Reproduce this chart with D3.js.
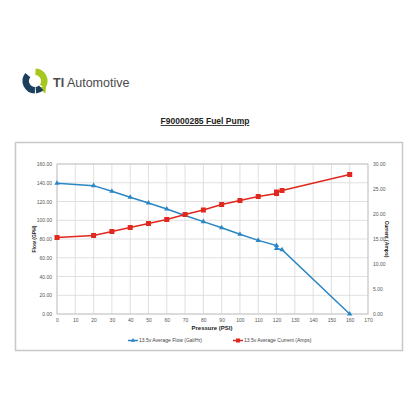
<!DOCTYPE html>
<html><head><meta charset="utf-8">
<script src="https://cdn.jsdelivr.net/npm/d3@7"></script>
<style>body{margin:0;background:#fff}svg{display:block}</style>
</head><body>
<svg id="c" width="416" height="416"></svg>
<script>
const pressure = [0,20,30,40,50,60,70,80,90,100,110,120,120,123,160];
const flow     = [139.4,136.9,130.9,124.5,118.4,112,105,98.5,92,85,78.5,73,70,68.5,0];
const current  = [15.3,15.7,16.5,17.3,18.1,18.9,19.9,20.8,21.9,22.7,23.5,24.1,24.4,24.7,27.9];
const xTicks = d3.range(0,171,10);
const yTicks = d3.range(0,161,20);
const y2Ticks = d3.range(0,31,5);
const seriesNames = ["13.5v Average Flow (Gal/Hr)","13.5v Average Current (Amps)"];
const colors = ["#2a86c4","#e0281e"];

const svg = d3.select("#c");
const F = "Liberation Sans, Arial, sans-serif";

// logo
const g = svg.append("g").attr("transform","translate(35,81)");
const arc = d3.arc();
g.append("path").attr("d", arc({innerRadius:6,outerRadius:12.5,startAngle:0.05,endAngle:2.2})).attr("fill","#a6c71e");
g.append("path").attr("d","M12,-3 L16,3 L6,3 Z").attr("fill","#a6c71e").attr("transform","rotate(40)");
g.append("path").attr("d", arc({innerRadius:6,outerRadius:12.5,startAngle:3.15,endAngle:5.4})).attr("fill","#1d3f5e");
g.append("path").attr("d", arc({innerRadius:6,outerRadius:12.5,startAngle:2.4,endAngle:3.05})).attr("fill","#1d3f5e");
svg.append("text").attr("x",53).attr("y",87).attr("font-family",F).attr("font-size",12.5).attr("fill","#4a4a4a")
  .html('<tspan font-weight="bold">TI</tspan> Automotive');

// title
svg.append("text").attr("x",205).attr("y",124).attr("text-anchor","middle")
  .attr("font-family",F).attr("font-size",8.5).attr("font-weight","bold").attr("fill","#222")
  .attr("text-decoration","underline").text("F90000285 Fuel Pump");

// frame
svg.append("rect").attr("x",15.5).attr("y",142.5).attr("width",387).attr("height",208)
  .attr("fill","#fff").attr("stroke","#c8c8c8").attr("stroke-width",1.5);

const x = d3.scaleLinear().domain([0,170]).range([57,368]);
const y = d3.scaleLinear().domain([0,160]).range([314,164]);
const y2 = d3.scaleLinear().domain([0,30]).range([314,164]);

// grid
svg.append("g").selectAll("line").data(xTicks).join("line")
  .attr("x1",d=>x(d)).attr("x2",d=>x(d)).attr("y1",164).attr("y2",314)
  .attr("stroke","#d8d8d8").attr("stroke-width",0.8);
svg.append("g").selectAll("line").data(yTicks).join("line")
  .attr("x1",57).attr("x2",368).attr("y1",d=>y(d)).attr("y2",d=>y(d))
  .attr("stroke","#d8d8d8").attr("stroke-width",0.8);
svg.append("rect").attr("x",57).attr("y",164).attr("width",311).attr("height",150)
  .attr("fill","none").attr("stroke","#bdbdbd").attr("stroke-width",0.8);

const tf = d3.format(".2f");
const ax = svg.append("g").attr("transform","translate(0,314)")
  .call(d3.axisBottom(x).tickValues(xTicks).tickSize(0).tickPadding(4));
const ay = svg.append("g").attr("transform","translate(57,0)")
  .call(d3.axisLeft(y).tickValues(yTicks).tickFormat(tf).tickSize(0).tickPadding(5));
const ay2 = svg.append("g").attr("transform","translate(368,0)")
  .call(d3.axisRight(y2).tickValues(y2Ticks).tickFormat(tf).tickSize(0).tickPadding(5));
[ax,ay,ay2].forEach(a=>{a.select(".domain").remove();
  a.selectAll("text").attr("font-family",F).attr("font-size",5).attr("fill","#555");});

// axis titles
svg.append("text").attr("x",212).attr("y",330).attr("text-anchor","middle").attr("font-family",F)
  .attr("font-size",6).attr("font-weight","bold").attr("fill","#222").text("Pressure (PSI)");
svg.append("text").attr("transform","translate(36,239) rotate(-90)").attr("text-anchor","middle").attr("font-family",F)
  .attr("font-size",5).attr("font-weight","bold").attr("fill","#222").text("Flow (GPH)");
svg.append("text").attr("transform","translate(385,239) rotate(90)").attr("text-anchor","middle").attr("font-family",F)
  .attr("font-size",5).attr("font-weight","bold").attr("fill","#222").text("Current (Amps)");

// series
const data1 = pressure.map((p,i)=>[p,flow[i]]);
const data2 = pressure.map((p,i)=>[p,current[i]]);
svg.append("path").datum(data1).attr("fill","none").attr("stroke",colors[0]).attr("stroke-width",1.5)
  .attr("d",d3.line().x(d=>x(d[0])).y(d=>y(d[1])));
svg.append("path").datum(data2).attr("fill","none").attr("stroke",colors[1]).attr("stroke-width",1.5)
  .attr("d",d3.line().x(d=>x(d[0])).y(d=>y2(d[1])));
const tri = d3.symbol().type(d3.symbolTriangle).size(12);
svg.append("g").selectAll("path").data(data1).join("path")
  .attr("transform",d=>`translate(${x(d[0])},${y(d[1])})`).attr("d",tri()).attr("fill",colors[0]);
svg.append("g").selectAll("rect").data(data2).join("rect")
  .attr("x",d=>x(d[0])-2.5).attr("y",d=>y2(d[1])-2.5).attr("width",5).attr("height",5).attr("fill",colors[1]);

// legend
const leg = [{x:128,c:colors[0],t:seriesNames[0],s:"tri"},{x:233,c:colors[1],t:seriesNames[1],s:"sq"}];
leg.forEach(l=>{
  svg.append("line").attr("x1",l.x).attr("x2",l.x+10).attr("y1",340.5).attr("y2",340.5).attr("stroke",l.c).attr("stroke-width",1.5);
  if(l.s==="tri") svg.append("path").attr("transform",`translate(${l.x+5},340.5)`).attr("d",d3.symbol().type(d3.symbolTriangle).size(8)()).attr("fill",l.c);
  else svg.append("rect").attr("x",l.x+3).attr("y",338.5).attr("width",4).attr("height",4).attr("fill",l.c);
  svg.append("text").attr("x",l.x+11).attr("y",342.3).attr("font-family",F).attr("font-size",5).attr("fill","#444").text(l.t);
});
</script>
</body></html>
